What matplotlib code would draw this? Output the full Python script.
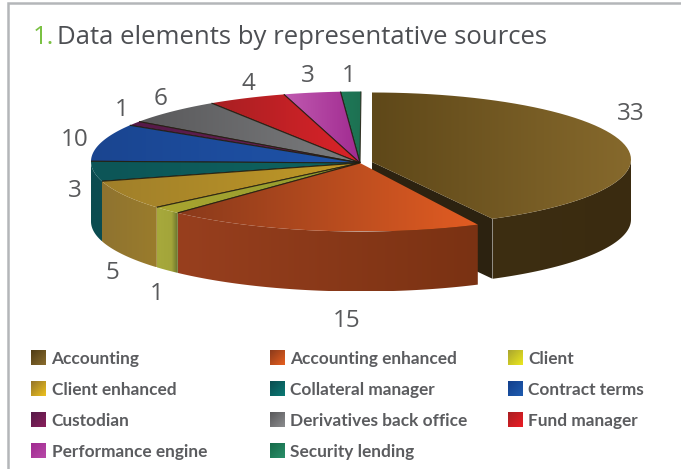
import numpy as np
import matplotlib
matplotlib.use("Agg")
import matplotlib.pyplot as plt
from matplotlib.colors import LinearSegmentedColormap
from matplotlib.patches import Polygon

# Data elements per source, clockwise from twelve o'clock
names = ["Accounting", "Accounting enhanced", "Client", "Client enhanced",
         "Collateral manager", "Contract terms", "Custodian",
         "Derivatives back office", "Fund manager", "Performance engine",
         "Security lending"]
values = [33, 15, 1, 5, 3, 10, 1, 6, 4, 3, 1]

# top surface colours, left to right
top_cols = [("#5f4819", "#86692c"), ("#8a3a1b", "#e25c22"), ("#a9a52f", "#8f9a30"),
            ("#a07f2a", "#c29a26"), ("#0c5557", "#0f6460"), ("#1a4590", "#1f54ab"),
            ("#551a48", "#6b2257"), ("#59595b", "#7c7d7f"), ("#a81f22", "#dc2329"),
            ("#c05ab0", "#a02a90"), ("#1f7a58", "#1d7052")]
side_cols = [("#3d2e12", "#3a2b10"), ("#983f1e", "#7a3213"),
             ("#a7a93c", "#a5a73b", "#a3a53a", "#5e6a2a"),
             ("#8f7330", "#9a7c2c"), ("#0b4c50", "#0b4c50"), ("#10306a", "#10306a"),
             ("#40123a", "#40123a"), ("#444446", "#444446"), ("#7a1518", "#7a1518"),
             ("#7a2070", "#7a2070"), ("#145238", "#145238")]
legend_cols = [("#4f3b14", "#8a6d2e"), ("#8a3a1b", "#e8601f"), ("#a9a52f", "#ece81e"),
               ("#94742a", "#eec21e"), ("#0b4c50", "#0a7a74"), ("#123f8c", "#1f5cb0"),
               ("#551a48", "#8a1f5c"), ("#58585a", "#8c8d8f"), ("#a81f22", "#ec1c24"),
               ("#a02a90", "#b84aa8"), ("#166a4a", "#2a8f68")]

# where each value label sits
label_pos = [(631, 114), (347, 321), (157, 294), (112, 273), (75, 191), (75, 140),
             (122, 110), (161, 99), (248, 84), (308, 76), (349, 76)]

# pie geometry in pixels
CX, CY, RX, RY = 361, 161.5, 270, 70
APEX = (360, 163)
OUT_CX, OUT_CY, OUT_RX, OUT_RY = 372, 159.5, 259, 67
OUT_APEX = (372, 162)
DEPTH = 60

# the camera stretches the front of the disc, this bends slice angles the same way
VIEW_IN = [0, 145, 211, 215, 237, 250, 294, 325, 342, 356, 360]
VIEW_OUT = [0, 154.5, 223, 229, 253.5, 270, 301, 326.5, 343, 356, 360]


def rim(t0, t1, cx, cy, rx, ry):
    t = np.radians(np.linspace(t0, t1, 60))
    return np.column_stack([cx + rx * np.sin(t), cy - ry * np.cos(t)])


def grad_fill(ax, verts, cols, z, diag=False):
    poly = Polygon(verts, closed=True, fc="none", ec="none", zorder=z)
    ax.add_patch(poly)
    x0, y0 = verts.min(axis=0)
    x1, y1 = verts.max(axis=0)
    g = np.linspace(0, 1, 128)
    img = np.add.outer(g, g) / 2 if diag else g[None, :]
    cmap = LinearSegmentedColormap.from_list("g", list(cols))
    im = ax.imshow(img, extent=[x0, x1, y1, y0], cmap=cmap, vmin=0, vmax=1,
                   aspect="auto", zorder=z, interpolation="bilinear")
    im.set_clip_path(poly)


def draw_side(ax, arc, cols, z):
    low = arc[::-1] + [0, DEPTH]
    grad_fill(ax, np.vstack([arc, low]), cols, z)


fig = plt.figure(figsize=(6.81, 4.69), dpi=100)
ax = fig.add_axes([0, 0, 1, 1])

total = sum(values)
edges = np.cumsum([0] + values) / total * 360
angles = np.interp(edges, VIEW_IN, VIEW_OUT)

# exploded biggest slice goes first, its neighbours overlap the cut face
t0 = angles[0]
out_end = angles[1] - 2.1  # it sits further back, so its end angle is a little less
arc = rim(t0, out_end, OUT_CX, OUT_CY, OUT_RX, OUT_RY)
cut = np.array([OUT_APEX, arc[-1], arc[-1] + [0, DEPTH], np.add(OUT_APEX, [0, DEPTH])])
ax.add_patch(Polygon(cut, closed=True, fc="#2c2210", ec="none", zorder=1))
draw_side(ax, rim(90, out_end, OUT_CX, OUT_CY, OUT_RX, OUT_RY), side_cols[0], 1)
grad_fill(ax, np.vstack([[OUT_APEX], arc]), top_cols[0], 2)

# back slices first, then walk round to the front
order = [10, 9, 8, 7, 6, 5, 4, 3, 2, 1]
for n, i in enumerate(order):
    t0, t1 = angles[i], angles[i + 1]
    z = 3 + n
    arc = rim(t0, t1, CX, CY, RX, RY)
    if t0 < 270:
        draw_side(ax, rim(t0, min(t1, 270), CX, CY, RX, RY), side_cols[i], z)
    grad_fill(ax, np.vstack([[APEX], arc]), top_cols[i], z + 0.3)
    if i != 1:
        ax.plot([APEX[0], arc[0, 0]], [APEX[1], arc[0, 1]], color="#231d10", lw=0.8,
                alpha=0.85, zorder=z + 0.4, solid_capstyle="butt")
    ax.plot([APEX[0], arc[-1, 0]], [APEX[1], arc[-1, 1]], color="#231d10", lw=0.8,
            alpha=0.85, zorder=z + 0.4, solid_capstyle="butt")

# value labels
for v, (x, y) in zip(values, label_pos):
    ax.text(x, y, str(v), ha="center", va="center", fontsize=17.5, color="#58595b",
            family="Open Sans", zorder=30)

# title
ax.text(33, 37, "1.", ha="left", va="center", fontsize=18.5, color="#7ac143",
        family="Open Sans")
ax.text(57, 37, "Data elements by representative sources", ha="left", va="center",
        fontsize=18.5, color="#4d4f53", family="Open Sans")

# legend, three columns filled row by row
col_x = [31, 270, 508]
row_y = [358, 389, 420, 451]
for k, name in enumerate(names):
    x = col_x[k % 3]
    y = row_y[k // 3]
    box = np.array([[x, y - 7.5], [x + 15, y - 7.5], [x + 15, y + 7.5], [x, y + 7.5]])
    grad_fill(ax, box, legend_cols[k], 20, diag=True)
    ax.text(x + 20.5, y + 1, name, ha="left", va="center", fontsize=12.4, fontweight="bold",
            color="#5b5c5f", family="Lato")

# frame, open on the right and at the bottom
ax.plot([8, 8, 681], [469, 3.5, 3.5], color="#b4b6b9", lw=1.8, solid_joinstyle="miter")

ax.set_xlim(0, 681)
ax.set_ylim(469, 0)
ax.axis("off")
fig.savefig("out.png", dpi=100)
